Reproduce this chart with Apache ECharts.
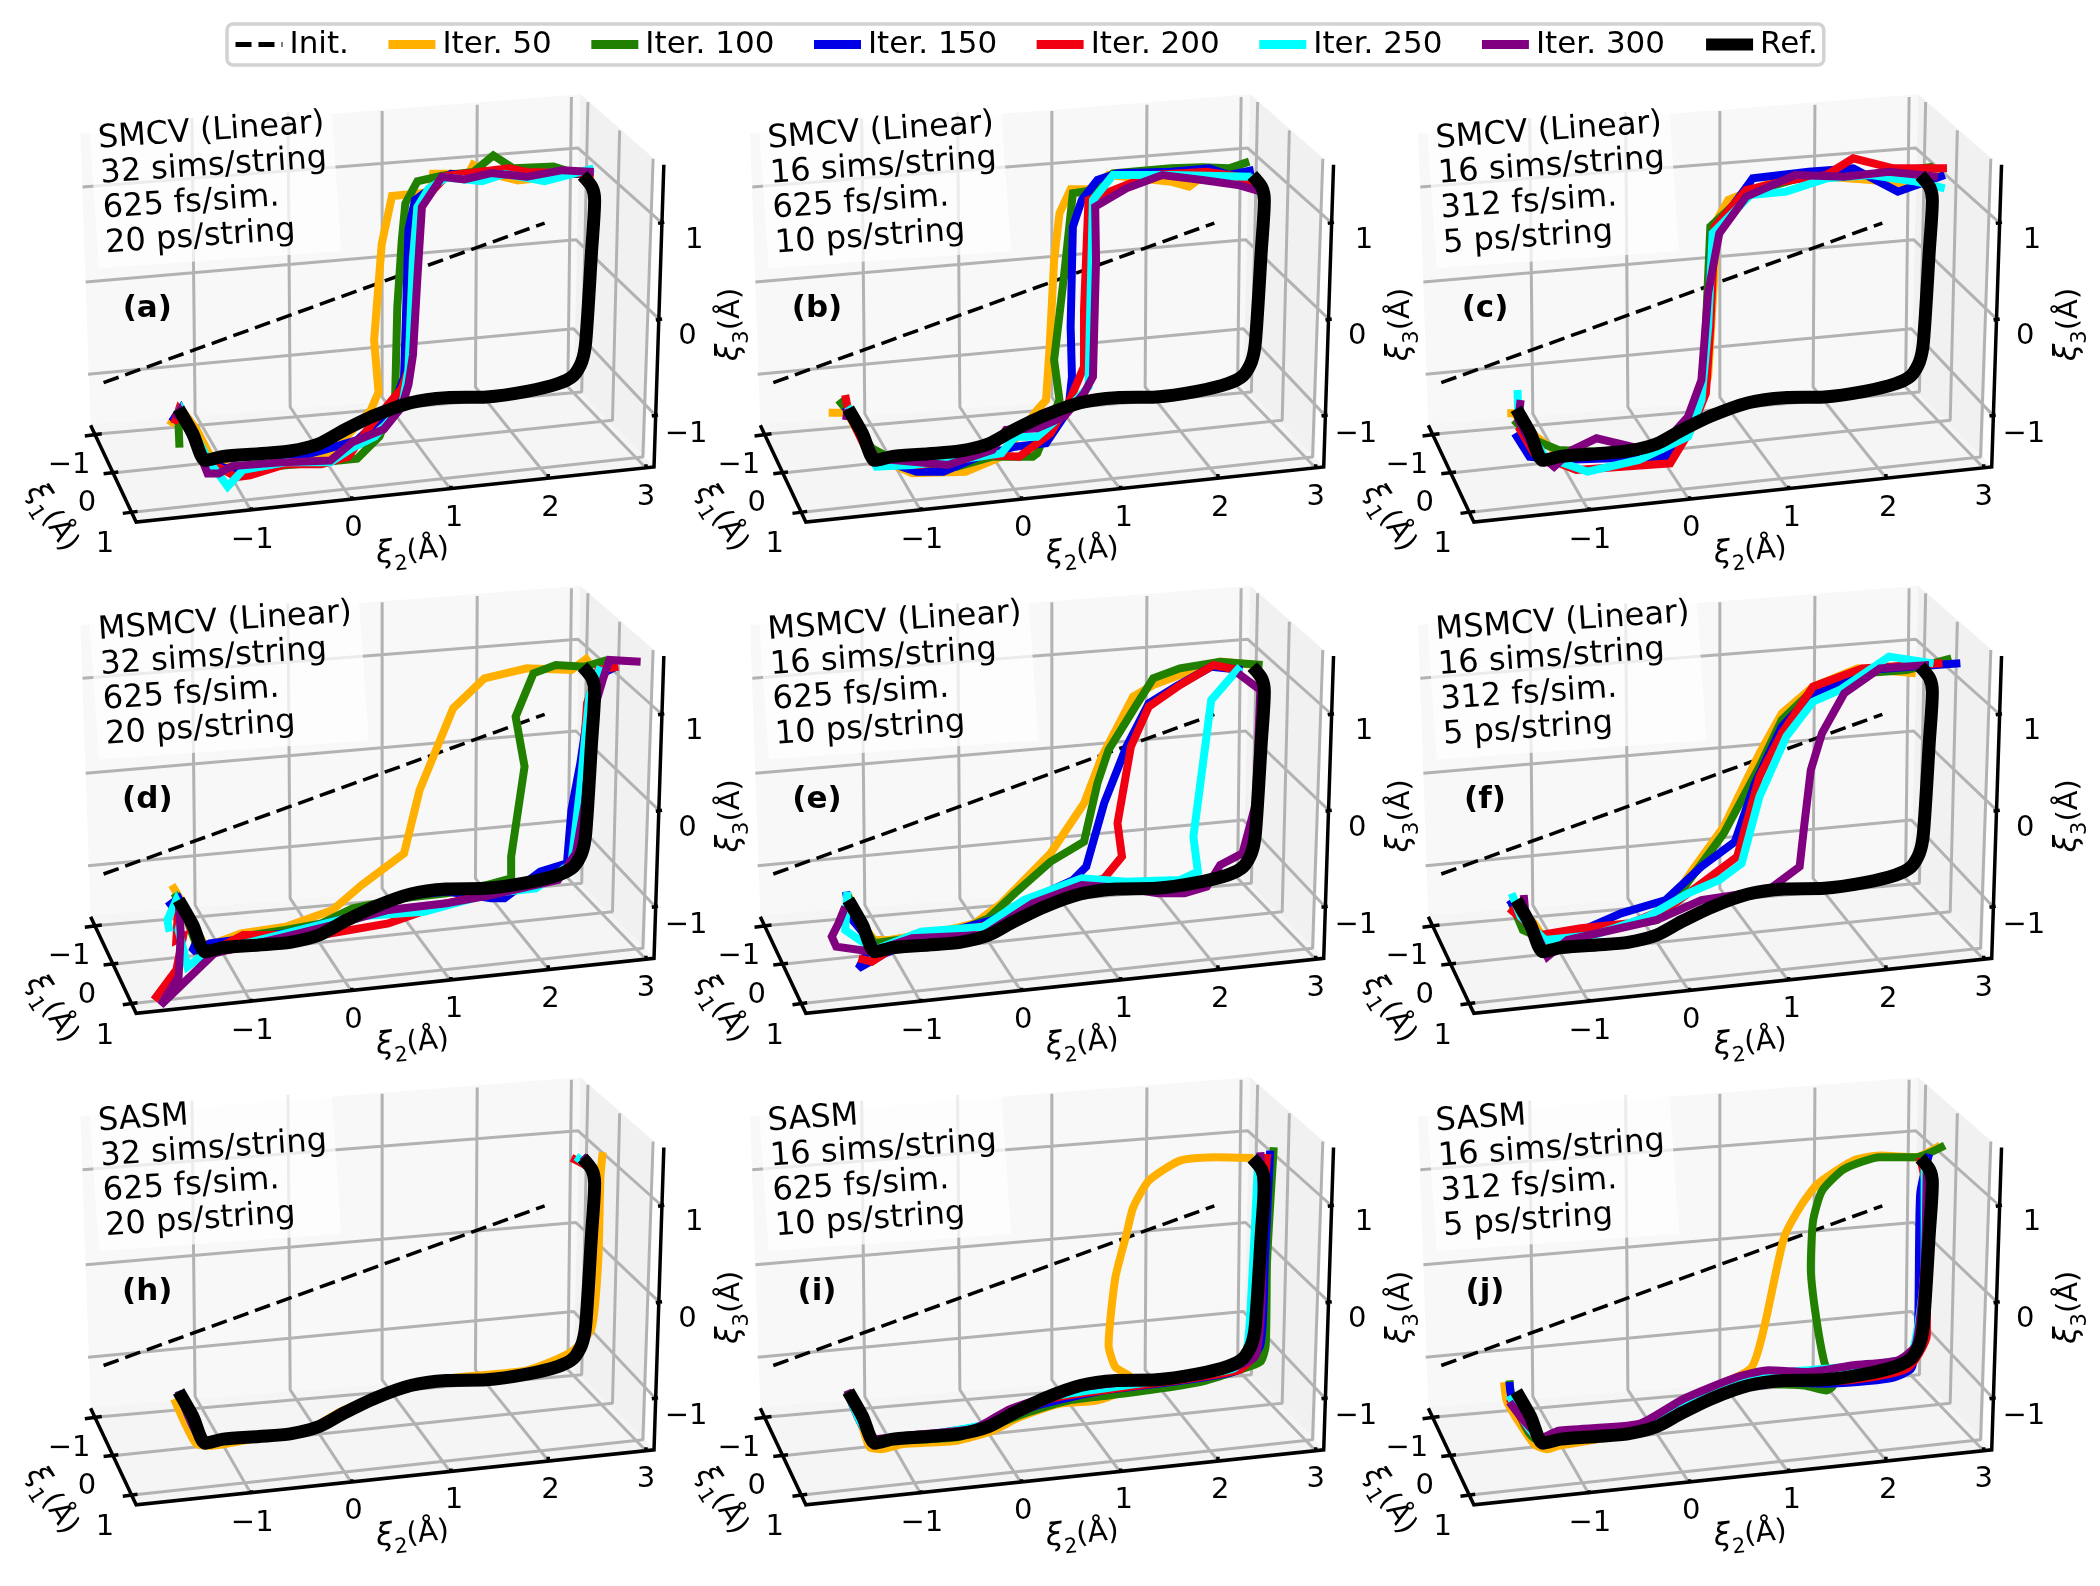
<!DOCTYPE html>
<html><head><meta charset="utf-8">
<style>html,body{margin:0;padding:0;background:#fff}#c{width:2100px;height:1586px}</style>
<script src="https://cdn.jsdelivr.net/npm/echarts@6/dist/echarts.min.js"></script>
</head><body><div id="c"></div>
<script>
// All curves are the projected (screen-plane) coordinates of the 3D strings.
const seriesNames=['Iter. 50','Iter. 100','Iter. 150','Iter. 200','Iter. 250','Iter. 300'];
const seriesColors=['#ffb000','#228000','#0000e6','#f00010','#00ffff','#800080'];
const tickX=['\u22121','0','1','2','3'];
const tickY=['\u22121','0','1'];
const tickZ=['1','0','\u22121'];

// shared frame of the 3D box
const paneBack=[[180,165],[1300,47],[1285,925],[203,1035]];
const paneRight=[[1300,47],[1465,240],[1445,1135],[1285,925]];
const paneFloor=[[203,1035],[1285,925],[1445,1135],[1465,1165],[305,1330]];
const gridLines=[
 [[185,325],[1295,208],[1482,432]],
 [[192,610],[1290,483],[1477,722]],
 [[197,887],[1285,750],[1468,1010]],
 [[430,118],[437,1005],[563,1298]],
 [[645,100],[650,985],[788,1265]],
 [[856,97],[856,955],[1010,1233]],
 [[1069,78],[1065,925],[1228,1197]],
 [[1280,55],[1272,925],[1447,1168]],
 [[212,1067],[1303,940],[1317,70]],
 [[258,1182],[1372,1025],[1388,155]],
 [[302,1300],[1440,1135],[1463,240]]
];
const axisLines=[
 [[203,1040],[305,1330],[1465,1165],[1487,258]],
 [[190,1072],[228,1065]],[[232,1185],[265,1180]],[[275,1304],[308,1298]],
 [[563,1298],[563,1286]],[[788,1265],[788,1253]],[[1010,1233],[1010,1221]],[[1228,1197],[1228,1186]],[[1447,1168],[1447,1157]],
 [[1474,434],[1488,431]],[[1469,724],[1483,721]],[[1460,1012],[1474,1009]]
];
const tickXPos=[[565,1385],[792,1350],[1017,1318],[1233,1288],[1447,1255]];
const tickYPos=[[155,1160],[195,1275],[235,1398]];
const tickZPos=[[1555,484],[1540,774],[1537,1066]];
const initPath=[[232,912],[1220,433]];
const refPath=[[400,990],[432,1065],[460,1145],[500,1133],[580,1125],[650,1117],[715,1095],[770,1055],[840,1010],[920,972],[1000,957],[1090,955],[1180,938],[1250,915],[1285,890],[1303,850],[1312,790],[1325,520],[1332,365],[1326,325],[1305,290]];

const panelIds=['a','b','c','d','e','f','h','i','j'];
const panelTitles=['SMCV (Linear)','SMCV (Linear)','SMCV (Linear)','MSMCV (Linear)','MSMCV (Linear)','MSMCV (Linear)','SASM','SASM','SASM'];
const panelSims=['32 sims/string','16 sims/string','16 sims/string','32 sims/string','16 sims/string','16 sims/string','32 sims/string','16 sims/string','16 sims/string'];
const panelFs=['625 fs/sim.','625 fs/sim.','312 fs/sim.','625 fs/sim.','625 fs/sim.','312 fs/sim.','625 fs/sim.','625 fs/sim.','312 fs/sim.'];
const panelPs=['20 ps/string','10 ps/string','5 ps/string','20 ps/string','10 ps/string','5 ps/string','20 ps/string','10 ps/string','5 ps/string'];

// (a)
const a50=[[380,1150],[405,1105],[440,1160],[470,1230],[520,1270],[620,1250],[720,1240],[780,1175],[830,1110],[848,1060],[838,920],[855,660],[878,530],[965,520],[970,470],[1050,470],[1060,445],[1100,470],[1160,488],[1290,470],[1330,470]];
const a100=[[402,1210],[400,1150],[405,1105],[460,1240],[510,1270],[620,1260],[720,1250],[800,1240],[850,1180],[885,1080],[890,830],[900,650],[908,550],[935,490],[990,475],[1060,465],[1105,420],[1150,455],[1240,450],[1290,470],[1320,465]];
const a150=[[385,1140],[405,1105],[460,1250],[520,1270],[620,1250],[730,1215],[800,1190],[880,1100],[905,1020],[910,830],[915,620],[930,540],[1010,470],[1080,478],[1140,470],[1320,470]];
const a200=[[390,1145],[400,1110],[470,1250],[530,1290],[560,1285],[640,1255],[720,1255],[780,1235],[830,1150],[900,1050],[915,1000],[925,700],[935,560],[1000,475],[1140,455],[1180,465],[1330,470]];
const a250=[[395,1120],[405,1105],[470,1250],[510,1315],[545,1270],[640,1250],[740,1250],[790,1210],[840,1180],[900,1100],[915,1000],[925,700],[935,560],[960,510],[1000,480],[1080,490],[1130,470],[1220,490],[1330,455]];
const a300=[[390,1130],[402,1110],[455,1250],[465,1280],[490,1280],[520,1260],[630,1250],[740,1245],[790,1195],[860,1160],[900,1100],[915,1040],[925,960],[935,750],[945,560],[990,478],[1040,485],[1100,468],[1180,478],[1260,460],[1330,465]];
// (b)
const b50=[[333,1058],[375,1058],[420,1170],[470,1210],[520,1240],[640,1235],[720,1190],[800,1050],[820,1020],[828,860],[838,600],[850,460],[875,388],[920,388],[960,345],[1100,365],[1140,380],[1160,360],[1280,345]];
const b100=[[355,1020],[380,1060],[430,1165],[500,1215],[620,1220],[700,1190],[790,1190],[800,1180],[850,1020],[838,900],[860,650],[880,400],[930,390],[970,340],[1100,325],[1170,322],[1230,325],[1275,305]];
const b150=[[370,1040],[380,1060],[430,1190],[530,1235],[590,1235],[670,1190],[750,1160],[820,1150],[870,1050],[878,950],[875,800],[880,500],[900,420],[935,360],[980,340],[1100,335],[1185,325],[1230,345],[1285,330]];
const b200=[[370,1005],[378,1060],[430,1205],[540,1215],[620,1195],[680,1185],[760,1190],[830,1120],[870,1030],[905,920],[905,750],[915,420],[1000,375],[1060,345],[1180,335],[1250,350],[1300,380]];
const b250=[[375,1040],[385,1060],[440,1220],[520,1215],[620,1200],[720,1180],[750,1130],[800,1130],[860,1060],[915,980],[918,800],[925,420],[970,345],[1100,345],[1280,350]];
const b300=[[372,1080],[375,1050],[440,1195],[600,1215],[700,1170],[730,1110],[800,1105],[860,1070],[905,1000],[925,950],[932,600],[930,440],[1000,385],[1080,345],[1170,360],[1250,375],[1315,400]];
// (c)
const c50=[[285,1060],[300,1060],[350,1130],[400,1180],[500,1190],[620,1180],[700,1090],[735,950],[750,620],[755,480],[780,420],[900,355],[1000,350],[1100,360],[1160,370],[1260,340]];
const c100=[[300,1080],[345,1140],[400,1170],[560,1180],[680,1110],[725,950],[740,500],[820,400],[950,350],[1100,345],[1240,320]];
const c150=[[302,1120],[335,1190],[400,1200],[640,1190],[700,1100],[730,950],[745,520],[835,355],[960,335],[1060,325],[1110,360],[1160,395],[1265,345]];
const c200=[[310,1100],[345,1180],[440,1230],[650,1210],[700,1100],[730,1000],[740,800],[750,500],[820,390],[900,365],[1000,345],[1060,295],[1150,325],[1270,325]];
const c250=[[308,990],[310,1070],[370,1190],[465,1235],[580,1200],[690,1130],[720,1020],[735,800],[745,520],[830,405],[910,395],[1000,355],[1100,345],[1200,365],[1265,385]];
const c300=[[315,1020],[310,1080],[345,1170],[390,1220],[430,1170],[485,1135],[580,1165],[650,1130],[690,1070],[720,960],[735,700],[760,520],[820,410],[930,345],[1040,350],[1140,335],[1250,350]];
// (d)
const d50=[[385,945],[405,990],[440,1080],[460,1130],[540,1090],[640,1070],[745,1020],[810,945],[905,850],[940,660],[1015,415],[1085,325],[1180,295],[1280,300],[1320,260]];
const d100=[[390,970],[405,1000],[450,1160],[480,1150],[540,1100],[640,1080],[720,1060],[790,1015],[900,985],[1000,970],[1090,945],[1145,925],[1145,860],[1175,590],[1155,440],[1195,310],[1245,285],[1310,290],[1360,270]];
const d150=[[375,1010],[400,985],[445,1100],[430,1145],[470,1120],[640,1090],[790,1040],[920,975],[1000,965],[1100,985],[1130,985],[1210,905],[1270,880],[1280,720],[1300,580],[1320,400],[1335,320],[1380,290]];
const d200=[[345,1290],[395,1200],[410,1100],[395,1110],[400,990],[430,1080],[465,1150],[545,1095],[720,1095],[870,1060],[1000,1000],[1140,960],[1280,900],[1300,700],[1315,400],[1340,300],[1385,290]];
const d250=[[380,1085],[375,1050],[395,990],[410,1030],[400,1080],[420,1190],[460,1150],[640,1090],[790,1040],[950,1025],[1100,970],[1200,955],[1280,880],[1300,650],[1320,380],[1345,290]];
const d300=[[400,995],[405,1090],[400,1220],[360,1305],[480,1150],[640,1100],[760,1060],[870,1020],[1000,1000],[1100,975],[1250,930],[1290,850],[1310,700],[1330,420],[1350,330],[1365,270],[1435,275]];
// (e)
const e50=[[375,970],[395,1040],[435,1110],[470,1110],[600,1080],[660,1060],[720,1000],[830,850],[905,700],[945,560],[1015,380],[1060,345],[1130,310],[1210,275],[1290,285]];
const e100=[[375,975],[400,1040],[435,1120],[620,1085],[690,1045],[750,970],[830,875],[905,815],[935,640],[960,540],[1020,410],[1060,325],[1120,295],[1210,275],[1305,285]];
const e150=[[372,965],[380,1040],[430,1120],[400,1195],[460,1150],[560,1100],[700,1050],[800,980],[880,930],[910,890],[950,700],[1000,530],[1050,400],[1110,350],[1190,290],[1260,300]];
const e200=[[400,1165],[430,1175],[470,1140],[600,1095],[700,1060],[800,985],[900,945],[950,925],[990,860],[980,760],[1010,530],[1050,410],[1120,345],[1195,285],[1250,300]];
const e250=[[375,965],[370,1080],[435,1140],[540,1085],[680,1070],[770,990],[900,925],[1000,935],[1120,930],[1160,905],[1150,800],[1190,390],[1255,290]];
const e300=[[370,1010],[355,1060],[340,1100],[350,1130],[430,1145],[520,1105],[680,1095],[790,1000],[900,945],[1000,955],[1070,970],[1130,970],[1180,950],[1210,885],[1260,850],[1290,700],[1300,360],[1250,310]];
// (f)
const f50=[[300,1000],[345,1060],[370,1110],[450,1090],[600,1050],[650,1000],[700,900],[770,770],[850,550],[900,430],[970,350],[1070,295],[1200,310]];
const f100=[[295,1000],[320,1080],[370,1110],[620,1050],[660,990],[710,900],[770,790],[850,590],[900,450],[970,360],[1080,310],[1180,300],[1280,265]];
const f150=[[290,990],[350,1100],[420,1100],[540,1030],[640,990],[720,890],[795,815],[840,640],[900,470],[970,370],[1090,300],[1300,280]];
const f200=[[290,1015],[360,1095],[450,1075],[560,1060],[650,1010],[750,910],[800,860],[850,620],[900,490],[970,350],[1080,295],[1260,280]];
const f250=[[295,970],[315,1040],[370,1110],[480,1095],[600,1040],[690,970],[760,930],[810,880],[850,680],[910,500],[970,395],[1030,360],[1140,260],[1240,280]];
const f300=[[322,975],[325,1020],[375,1160],[420,1110],[620,1050],[720,990],[870,960],[940,890],[950,770],[965,600],[990,490],[1040,370],[1120,295],[1230,285]];
// (h)
const h50=[[390,1010],[440,1145],[470,1150],[600,1120],[700,1095],[760,1050],[850,1000],[1000,950],[1180,925],[1280,870],[1325,800],[1340,600],[1345,350],[1350,275]];
const h100=[[400,987],[458,1142],[500,1130],[580,1122],[650,1114],[715,1092],[770,1052],[840,1007],[920,969],[1000,954],[1090,954],[1180,937],[1250,914],[1288,888],[1306,847],[1316,787],[1328,517],[1334,362],[1326,322],[1305,287]];
const h150=[[400,987],[458,1142],[500,1130],[580,1122],[650,1114],[715,1092],[770,1052],[840,1007],[920,969],[1000,952],[1090,950],[1180,935],[1250,912],[1285,887],[1303,847],[1312,787],[1325,517],[1332,362],[1326,322],[1305,287]];
const h200=[[400,987],[458,1142],[500,1130],[580,1122],[650,1114],[715,1092],[770,1052],[840,1007],[920,969],[1000,954],[1090,952],[1180,935],[1250,912],[1285,887],[1303,847],[1312,787],[1325,517],[1332,362],[1320,322],[1280,292]];
const h250=[[400,987],[458,1142],[500,1130],[580,1122],[650,1114],[715,1092],[770,1052],[840,1007],[920,969],[1000,954],[1090,952],[1180,935],[1250,912],[1285,887],[1303,847],[1312,787],[1325,517],[1332,362],[1322,322],[1290,288]];
const h300=[[400,987],[458,1142],[500,1130],[580,1122],[650,1114],[715,1092],[770,1052],[840,1007],[920,969],[1000,954],[1090,952],[1180,935],[1250,912],[1285,887],[1303,847],[1312,787],[1325,517],[1332,362],[1326,322],[1305,287]];
// (i)
const i50=[[375,990],[410,1100],[425,1155],[450,1160],[500,1145],[620,1135],[700,1105],[760,1065],[850,1025],[935,1015],[1020,965],[1005,940],[975,915],[960,850],[975,650],[1000,520],[1015,440],[1050,360],[1120,300],[1200,290],[1285,292]];
const i100=[[375,985],[437,1135],[620,1125],[700,1090],[780,1050],[870,1015],[960,1000],[1100,975],[1180,955],[1250,925],[1300,900],[1312,850],[1315,600],[1330,260]];
const i150=[[375,990],[437,1135],[700,1085],[800,1030],[950,985],[1100,960],[1250,925],[1300,850],[1310,600],[1322,270]];
const i200=[[375,990],[437,1135],[700,1085],[830,1010],[1000,975],[1250,925],[1290,870],[1300,600],[1315,280]];
const i250=[[375,990],[437,1135],[690,1085],[830,1005],[1000,970],[1240,920],[1270,860],[1280,700],[1295,300]];
const i300=[[375,985],[440,1130],[520,1118],[660,1098],[740,1040],[900,975],[1180,935],[1290,880],[1305,500],[1300,275]];
// (j)
const j50=[[278,960],[285,1020],[345,1145],[375,1160],[400,1150],[600,1100],[690,1010],[830,920],[860,800],[905,530],[945,430],[980,370],[1060,300],[1120,285],[1200,290],[1255,255]];
const j100=[[290,955],[295,1000],[350,1130],[600,1100],[690,1020],[800,965],[950,970],[1000,985],[1015,970],[995,900],[975,750],[965,620],[970,480],[990,390],[1040,325],[1120,290],[1200,290],[1265,255]];
const j150=[[290,960],[295,1005],[360,1130],[600,1095],[700,1015],[850,960],[1000,965],[1140,950],[1190,920],[1205,800],[1210,400],[1230,280]];
const j200=[[290,1010],[360,1130],[600,1095],[700,1015],[860,960],[1050,955],[1180,920],[1225,820],[1225,400],[1210,290]];
const j250=[[290,1000],[360,1130],[600,1095],[700,1010],[850,940],[960,925],[1120,905],[1190,880],[1220,600],[1220,290]];
const j300=[[290,1020],[365,1125],[400,1105],[580,1085],[680,1010],[800,945],[870,925],[960,930],[1060,910],[1160,895],[1200,850],[1220,600],[1225,300]];

const panelCurves=[[a50,a100,a150,a200,a250,a300],[b50,b100,b150,b200,b250,b300],[c50,c100,c150,c200,c250,c300],
 [d50,d100,d150,d200,d250,d300],[e50,e100,e150,e200,e250,e300],[f50,f100,f150,f200,f250,f300],
 [h50,h100,h150,h200,h250,h300],[i50,i100,i150,i200,i250,i300],[j50,j100,j150,j200,j250,j300]];

// layout: frame origin of each panel, and the window each panel's curves were read in
const FONT='"DejaVu Sans"';
const colX=[0,669.7,1337.7], rowY=[78.7,570,1061.5];
const readWindows=[[0,0,700,580,1568],[680,60,700,520,1560],[1380,60,700,520,1560],
 [0,570,700,500,1500],[680,570,700,500,1500],[1380,570,700,500,1500],
 [0,1060,700,526,1568],[680,1060,700,526,1568],[1380,1060,700,526,1568]];

const grids=[],xAxes=[],yAxes=[],series=[];
function addGrid(l,t,w,h,xMax,yMax){
  grids.push({left:l,top:t,width:w,height:h,show:false});
  xAxes.push({type:'value',gridIndex:grids.length-1,min:0,max:xMax,show:false});
  yAxes.push({type:'value',gridIndex:grids.length-1,min:0,max:yMax,inverse:true,show:false});
  return grids.length-1;
}
function withGaps(lines){const o=[];lines.forEach(l=>{l.forEach(p=>o.push(p));o.push(['-','-'])});return o;}
const rich={
  i:{fontFamily:FONT,fontSize:31,fontStyle:'italic',color:'#000',padding:[0,0,7,0],verticalAlign:'bottom'},
  s:{fontFamily:FONT,fontSize:21,color:'#000',verticalAlign:'bottom'},
  n:{fontFamily:FONT,fontSize:29,color:'#000',padding:[0,0,7,0],verticalAlign:'bottom'}};
const labelOf=(s)=>`{i|\u03be}{s|${s}}{n|(\u00c5)}`;

panelIds.forEach((id,k)=>{
  const c=k%3,r=Math.floor(k/3);
  const fg=addGrid(colX[c],rowY[r],760,500,760*2.24,1500);
  const base={xAxisIndex:fg,yAxisIndex:fg,silent:true,animation:false};
  [[paneBack,'#f8f8f8'],[paneRight,'#f1f1f1'],[paneFloor,'#f5f5f5']].forEach(([poly,col])=>{
    series.push({...base,type:'custom',z:1,clip:false,data:[[poly[0][0],poly[0][1]]],
      renderItem:(p,api)=>({type:'polygon',shape:{points:poly.map(q=>api.coord(q))},style:{fill:col}})});
  });
  series.push({...base,type:'line',z:2,symbol:'none',clip:false,data:withGaps(gridLines),lineStyle:{color:'#b2b2b2',width:3},connectNulls:false});
  series.push({...base,type:'line',z:6,symbol:'none',clip:false,data:withGaps(axisLines),lineStyle:{color:'#000',width:3.5,join:'miter'},connectNulls:false});
  // text marks
  const pts=[];
  const tk=(pos,arr)=>pos.forEach((q,i)=>pts.push({value:q,label:{formatter:()=>arr[i],fontSize:29}}));
  tk(tickXPos,tickX);tk(tickYPos,tickY);tk(tickZPos,tickZ);
  pts.push({value:[925,1428],label:{formatter:labelOf('2'),rich,rotate:6}});
  pts.push({value:[110,1322],label:{formatter:labelOf('1'),rich,rotate:-58}});
  pts.push({value:[1644,737],label:{formatter:labelOf('3'),rich,rotate:90}});
  pts.push({value:[330,690],label:{formatter:()=>`(${id})`,fontWeight:'bold',fontSize:31}});
  series.push({...base,type:'scatter',z:7,clip:false,symbolSize:1,itemStyle:{color:'rgba(0,0,0,0)',opacity:1},data:pts,
    label:{show:true,position:'inside',fontFamily:FONT,color:'#000',align:'center',verticalAlign:'middle'}});
  // annotation box
  const txt=[panelTitles[k],panelSims[k],panelFs[k],panelPs[k]].join('\n');
  series.push({...base,type:'scatter',z:3,clip:false,symbolSize:1,itemStyle:{color:'rgba(0,0,0,0)',opacity:1},data:[[210,341]],
    label:{show:true,position:'inside',formatter:()=>txt,fontFamily:FONT,fontSize:32,lineHeight:35,color:'#000',align:'left',verticalAlign:'middle',rotate:4,
      backgroundColor:'rgba(255,255,255,0.75)',padding:[6,8,6,8]}});
  // init path
  series.push({...base,type:'line',z:4,name:'Init.',symbol:'none',clip:false,data:initPath,lineStyle:{color:'#000',width:3.5,type:[16,7]},itemStyle:{color:'#000'}});
  // strings
  const w=readWindows[k];
  const cg=addGrid(w[0],w[1],w[2],w[3],1568,w[4]);
  panelCurves[k].forEach((d,i)=>{
    series.push({type:'line',name:seriesNames[i],xAxisIndex:cg,yAxisIndex:cg,z:5,symbol:'none',clip:false,silent:true,animation:false,data:d,
      smooth:k>=6?0.2:false,lineStyle:{color:seriesColors[i],width:8,join:'miter',miterLimit:2.5,cap:'butt'},itemStyle:{color:seriesColors[i]}});
  });
  series.push({...base,type:'line',name:'Ref.',z:5.5,symbol:'none',clip:false,data:refPath,smooth:0.25,lineStyle:{color:'#000',width:13,cap:'butt'},itemStyle:{color:'#000'}});
});

const chart=echarts.init(document.getElementById('c'),null,{renderer:'canvas'});
chart.setOption({
  backgroundColor:'#fff',animation:false,
  grid:grids,xAxis:xAxes,yAxis:yAxes,series,
  legend:{left:227,top:24,padding:[5,6,5,6],itemGap:35,itemWidth:47,itemHeight:28,borderColor:'#d2d2d2',borderWidth:3.5,borderRadius:6,backgroundColor:'#fff',
    textStyle:{fontFamily:FONT,fontSize:31,color:'#000',padding:[0,0,0,2]},selectedMode:false,
    itemStyle:{color:'rgba(0,0,0,0)',opacity:0},
    data:['Init.',...seriesNames,'Ref.'].map(n=>({name:n,lineStyle:{width:n==='Ref.'?12:(n==='Init.'?5:9)}}))}
});
</script></body></html>
